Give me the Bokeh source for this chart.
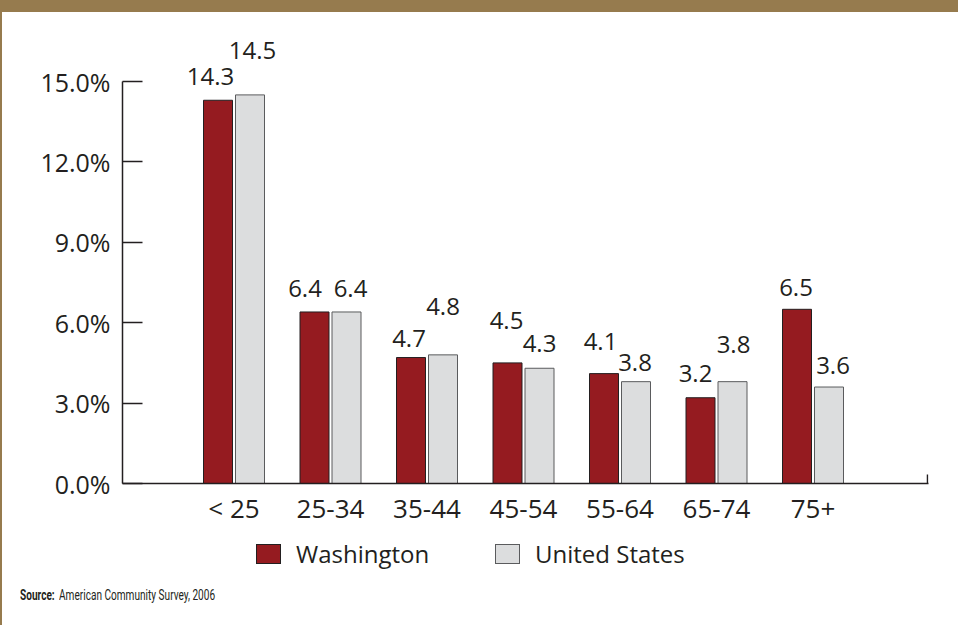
from bokeh.plotting import figure
from bokeh.layouts import column
from bokeh.models import Range1d, FixedTicker, Div, InlineStyleSheet
from bokeh.core.properties import value
from bokeh.embed import file_html
from bokeh.resources import INLINE

# ---------------- data ----------------
age_groups = ["< 25", "25-34", "35-44", "45-54", "55-64", "65-74", "75+"]
washington = [14.3, 6.4, 4.7, 4.5, 4.1, 3.2, 6.5]
united_states = [14.5, 6.4, 4.8, 4.3, 3.8, 3.8, 3.6]
y_ticks = [0, 3, 6, 9, 12, 15]
y_tick_labels = ["0.0%", "3.0%", "6.0%", "9.0%", "12.0%", "15.0%"]
series_names = ["Washington", "United States"]
source_label = "Source:"
source_note = "American Community Survey, 2006"

# ---------------- style ----------------
BORDER_TOP, BORDER_LEFT = 12, 2
W = 958 - BORDER_LEFT
CHART_BOTTOM = 530                      # page y where the footer starts
H_CHART = CHART_BOTTOM - BORDER_TOP
H_FOOT = 625 - CHART_BOTTOM
RED = "#951B20"
GREY = "#DCDDDE"
GREY_EDGE = "#5A5B5D"
BROWN = "#967B4E"
INK = "#231F20"
FONT = "Open Sans"

# value-label pixel offsets (label centre vs bar centre, baseline height above bar top)
wa_dx = [-7.5, -9.5, -2, -1, -3.5, -5, -1]
wa_dy = [15, 14, 10, 33, 23, 15, 13]
us_dx = [2.5, 4, 0, 0, -1, 1, 4]
us_dy = [35, 14, 39, 16, 10, 28, 13]
BASELINE_FIX = 9

frame_left = 122 - BORDER_LEFT
frame_right = 928 - BORDER_LEFT
frame_top = 0
frame_bottom = 483 - BORDER_TOP
px_per_group = 96.5
px_per_unit = 26.8
first_center = 233.5 - BORDER_LEFT - frame_left

x_start = -first_center / px_per_group
x_end = x_start + (frame_right - frame_left) / px_per_group
y_end = (frame_bottom - frame_top) / px_per_unit

bar_w = 29 / px_per_group
bar_off = 16 / px_per_group

no_scroll = InlineStyleSheet(css=":host{overflow:hidden !important;} "
                                 "*{scrollbar-width:none;} "
                                 "::-webkit-scrollbar{display:none;width:0;height:0;}")

# ---------------- chart ----------------
p = figure(width=W, height=H_CHART, output_backend="svg", toolbar_location=None,
           x_range=Range1d(x_start, x_end), y_range=Range1d(0, y_end),
           min_border_left=frame_left, min_border_right=W - frame_right,
           min_border_top=frame_top, min_border_bottom=H_CHART - frame_bottom,
           styles={"overflow": "hidden"}, stylesheets=[no_scroll])
p.outline_line_color = None
p.xgrid.visible = False
p.ygrid.visible = False
p.background_fill_color = "white"
p.border_fill_color = "white"

idx = list(range(len(age_groups)))
p.vbar(x=[i - bar_off for i in idx], top=washington, bottom=0, width=bar_w,
       fill_color=RED, line_color=INK, line_width=1, legend_label=series_names[0])
p.vbar(x=[i + bar_off for i in idx], top=united_states, bottom=0, width=bar_w,
       fill_color=GREY, line_color=GREY_EDGE, line_width=1, legend_label=series_names[1])
p.legend.visible = False   # the legend is drawn in the footer below the axis

p.text(x=[i - bar_off for i in idx], y=washington, text=[f"{v:.1f}" for v in washington],
       x_offset=wa_dx, y_offset=[-(d + BASELINE_FIX) for d in wa_dy], text_align="center",
       text_baseline="alphabetic", text_font=value(FONT), text_font_size="24px",
       text_color=INK)
p.text(x=[i + bar_off for i in idx], y=united_states, text=[f"{v:.1f}" for v in united_states],
       x_offset=us_dx, y_offset=[-(d + BASELINE_FIX) for d in us_dy], text_align="center",
       text_baseline="alphabetic", text_font=value(FONT), text_font_size="24px",
       text_color=INK)

# small end tick at the right of the x axis
xe = x_end - 1.0 / px_per_group
p.segment(x0=[xe], y0=[0], x1=[xe], y1=[9 / px_per_unit], line_color=INK, line_width=1.5)

ya = p.yaxis[0]
ya.ticker = FixedTicker(ticks=y_ticks)
ya.major_label_overrides = {t: l for t, l in zip(y_ticks, y_tick_labels)}
ya.bounds = (0, 15)
ya.major_tick_in = 20
ya.major_tick_out = 0
ya.minor_tick_line_color = None
ya.axis_line_color = INK
ya.axis_line_width = 1.5
ya.major_tick_line_color = INK
ya.major_tick_line_width = 1.5
ya.major_label_standoff = 12
ya.major_label_text_font = FONT
ya.major_label_text_font_size = "25px"
ya.major_label_text_color = INK

xa = p.xaxis[0]
xa.ticker = FixedTicker(ticks=idx)
xa.major_label_overrides = {i: g for i, g in zip(idx, age_groups)}
xa.major_tick_line_color = None
xa.major_tick_in = 0
xa.major_tick_out = 0
xa.minor_tick_line_color = None
xa.axis_line_color = INK
xa.axis_line_width = 1.5
xa.major_label_standoff = 6
xa.major_label_text_font = FONT
xa.major_label_text_font_size = "26px"
xa.major_label_text_color = INK

# ---------------- footer: legend + source (HTML) ----------------
def swatch(left, fill, edge):
    return (f'<span style="position:absolute;left:{left}px;top:14px;width:25px;height:20px;'
            f'background:{fill};border:1px solid {edge};"></span>')

def text_span(left, top, size, txt, extra=""):
    return (f'<span style="position:absolute;left:{left}px;top:{top}px;font-size:{size}px;'
            f'line-height:{size}px;white-space:nowrap;{extra}">{txt}</span>')

cond = "display:inline-block;transform:scaleX(0.72);transform-origin:0 50%;font-family:Roboto;"
footer_html = (
    f'<div style="position:relative;width:{W}px;height:{H_FOOT}px;font-family:\'{FONT}\';'
    f'color:{INK};margin:0;padding:0;overflow:hidden;">'
    + swatch(256 - BORDER_LEFT, RED, INK)
    + text_span(296 - BORDER_LEFT, 12, 24, series_names[0])
    + swatch(495 - BORDER_LEFT, GREY, GREY_EDGE)
    + text_span(535 - BORDER_LEFT, 12, 24, series_names[1])
    + text_span(20 - BORDER_LEFT, 58, 14, source_label, cond + "font-weight:bold;")
    + text_span(59 - BORDER_LEFT, 58, 14, source_note, cond)
    + '</div>'
)
footer = Div(text=footer_html, width=W, height=H_FOOT,
             styles={"margin": "0", "padding": "0", "overflow": "hidden"},
             stylesheets=[no_scroll])

page = column(p, footer, spacing=0, stylesheets=[no_scroll],
              styles={"border-top": f"{BORDER_TOP}px solid {BROWN}",
                      "border-left": f"{BORDER_LEFT}px solid {BROWN}",
                      "overflow": "hidden"})

open("out.html", "w").write(file_html(page, INLINE))
